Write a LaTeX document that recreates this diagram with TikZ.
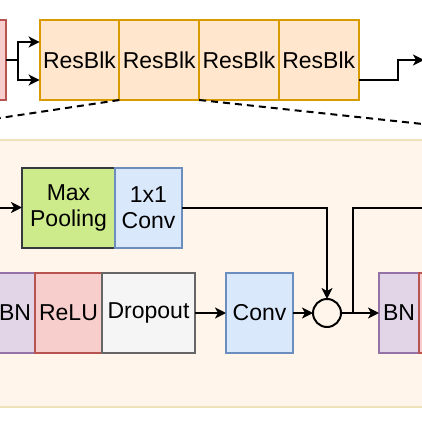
\documentclass[tikz,border=0pt]{standalone}
\usepackage{fontspec}
\setmainfont{Liberation Sans}
\usetikzlibrary{arrows.meta,positioning}
\definecolor{resfill}{HTML}{FFE6CC}
\definecolor{resdraw}{HTML}{D79B00}
\definecolor{redfill}{HTML}{F8CECC}
\definecolor{reddraw}{HTML}{B85450}
\definecolor{bluefill}{HTML}{DAE8FC}
\definecolor{bluedraw}{HTML}{6C8EBF}
\definecolor{greenfill}{HTML}{CDEB8B}
\definecolor{greendraw}{HTML}{36393D}
\definecolor{purplefill}{HTML}{E1D5E7}
\definecolor{purpledraw}{HTML}{9673A6}
\definecolor{grayfill}{HTML}{F5F5F5}
\definecolor{graydraw}{HTML}{666666}
\definecolor{panelfill}{HTML}{FFF5EB}
\definecolor{paneldraw}{HTML}{EFE2BB}
\tikzstyle{blk}=[draw,line width=2pt,minimum height=80pt,inner sep=0pt,outer sep=0pt,align=center,font=\fontsize{23}{26}\selectfont]
\tikzstyle{resblk}=[blk,fill=resfill,draw=resdraw,minimum width=79.75pt]
\tikzstyle{redblk}=[blk,fill=redfill,draw=reddraw,minimum width=67pt]
\tikzstyle{convblk}=[blk,fill=bluefill,draw=bluedraw,minimum width=67pt]
\tikzstyle{poolblk}=[blk,fill=greenfill,draw=greendraw,minimum width=93pt]
\tikzstyle{dropblk}=[blk,fill=grayfill,draw=graydraw,minimum width=93pt]
\tikzstyle{bnblk}=[blk,fill=purplefill,draw=purpledraw,minimum width=40pt]
\tikzstyle{addnode}=[circle,draw,line width=2pt,minimum size=28pt,inner sep=0pt,outer sep=0pt]
\tikzstyle{panel}=[fill=panelfill,draw=paneldraw,line width=2.5pt]
\tikzstyle{zoomline}=[line width=2pt,dash pattern=on 7pt off 5pt]

\begin{document}
\begin{tikzpicture}[x=1pt,y=-1pt,>={Stealth[length=11pt,width=11pt,inset=3pt]},line width=2pt]
  \useasboundingbox (0,0) rectangle (422,422);
  % expanded residual block
  \path[panel] (-10,140) rectangle (432,407);

  \node[redblk,minimum width=60pt] (in) at (-24,60) {};
  \node[resblk] (rb1) at (79.5,60) {ResBlk};
  \node[resblk] (rb2) [right=0pt of rb1] {ResBlk};
  \node[resblk] (rb3) [right=0pt of rb2] {ResBlk};
  \node[resblk] (rb4) [right=0pt of rb3] {ResBlk};
  \coordinate (split) at (18,60);
  \coordinate (bend) at (398,60);
  \coordinate (out) at (424,60);
  \coordinate (zl) at (-10,119.5);
  \coordinate (zr) at (432,125);

  \draw (in.east) -- (split);
  \draw[->] (split) |- ([yshift=18pt]rb1.west);
  \draw[->] (split) |- ([yshift=-20pt]rb1.west);
  \draw[->] ([yshift=-20pt]rb4.east) -| (bend) -- (out);
  \draw[zoomline] (rb2.south west) -- (zl);
  \draw[zoomline] (rb2.south east) -- (zr);

  \node[poolblk] (mp) at (68.5,207.5) {Max\\Pooling};
  \node[convblk] (c11) [right=0pt of mp] {1x1\\Conv};
  \coordinate (pin) at (-5,207.5);

  \node[bnblk] (bn1) at (15,313) {BN};
  \node[redblk] (relu) [right=0pt of bn1] {ReLU};
  \node[dropblk] (drop) [right=0pt of relu] {Dropout};
  \node[convblk] (conv) [right=31pt of drop] {Conv};
  \node[addnode] (add) [right=20pt of conv] {};
  \node[bnblk] (bn2) [right=38pt of add] {BN};
  \node[redblk] (relu2) [right=0pt of bn2] {};
  \coordinate (tee) at (353,313);
  \coordinate (skip) at (432,207.5);

  \draw[->] (pin) -- (mp);
  \draw[->] (c11.east) -| (add.north);
  \draw[->] (drop) -- (conv);
  \draw[->] (conv) -- (add);
  \draw[->] (add) -- (bn2);
  \draw (tee) |- (skip);
\end{tikzpicture}
\end{document}
